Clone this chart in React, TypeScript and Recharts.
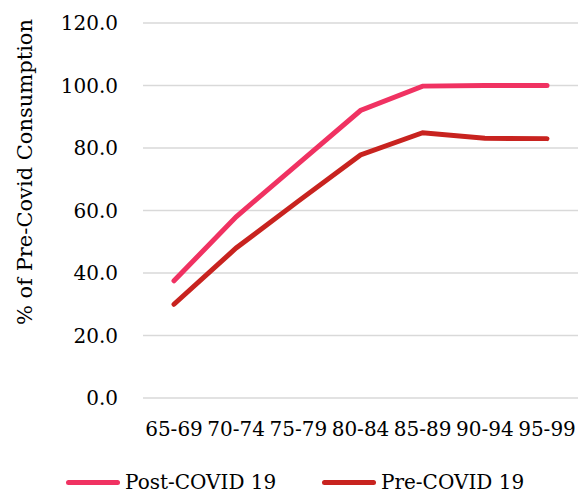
import React from 'react';
import { LineChart, Line, XAxis, YAxis, CartesianGrid, Legend, Label } from 'recharts';

const AGE_GROUPS = ['65-69', '70-74', '75-79', '80-84', '85-89', '90-94', '95-99'];
const POST_COVID = [37.5, 58.0, 75.0, 92.0, 99.8, 100.0, 100.0];
const PRE_COVID = [30.0, 48.0, 63.0, 77.8, 84.9, 83.1, 83.0];
const Y_TICKS = [0, 20, 40, 60, 80, 100, 120];

const PINK = '#F03262';
const RED = '#C8231F';
const FONT = '"DejaVu Serif", serif';

const data = AGE_GROUPS.map((age, i) => ({
  age,
  post: POST_COVID[i],
  pre: PRE_COVID[i],
}));

const renderLegend = () => {
  const items = [
    { label: 'Post-COVID 19', color: PINK },
    { label: 'Pre-COVID 19', color: RED },
  ];
  return (
    <div style={{ display: 'flex', paddingLeft: 66, paddingTop: 22, fontFamily: FONT, fontSize: 20, color: '#000' }}>
      {items.map((it) => (
        <div key={it.label} style={{ display: 'flex', alignItems: 'center', width: 261 }}>
          <span style={{ width: 54, height: 5, borderRadius: 3, background: it.color, marginRight: 5 }} />
          <span>{it.label}</span>
        </div>
      ))}
    </div>
  );
};

const renderYTitle = () => (
  <text
    x={25}
    y={172}
    transform="rotate(-90 25 172)"
    textAnchor="middle"
    dominantBaseline="central"
    fill="#000"
    fontSize={21}
    fontFamily={FONT}
  >
    % of Pre-Covid Consumption
  </text>
);

export default function App() {
  return (
    <div style={{ position: 'absolute', left: 0, top: 0, width: 578, height: 493, background: '#fff' }}>
      <LineChart width={578} height={493} data={data} margin={{ top: 23, right: 0, left: 0, bottom: 0 }}>
        <CartesianGrid vertical={false} stroke="#D9D9D9" strokeWidth={1.5} />
        <XAxis
          dataKey="age"
          axisLine={false}
          tickLine={false}
          height={50}
          interval={0}
          padding={{ left: 31, right: 31 }}
          tick={{ fill: '#000', fontSize: 20, fontFamily: FONT }}
          dy={16}
        />
        <YAxis
          domain={[0, 120]}
          ticks={Y_TICKS}
          width={143}
          axisLine={false}
          tickLine={false}
          tickFormatter={(v: number) => v.toFixed(1)}
          tick={{ fill: '#000', fontSize: 20, fontFamily: FONT }}
          tickMargin={19}
        >
          <Label content={renderYTitle} />
        </YAxis>
        <Legend verticalAlign="bottom" height={45} content={renderLegend} />
        <Line
          dataKey="post"
          name="Post-COVID 19"
          stroke={PINK}
          strokeWidth={5}
          strokeLinecap="round"
          dot={false}
          activeDot={false}
          isAnimationActive={false}
        />
        <Line
          dataKey="pre"
          name="Pre-COVID 19"
          stroke={RED}
          strokeWidth={5}
          strokeLinecap="round"
          dot={false}
          activeDot={false}
          isAnimationActive={false}
        />
      </LineChart>
    </div>
  );
}
